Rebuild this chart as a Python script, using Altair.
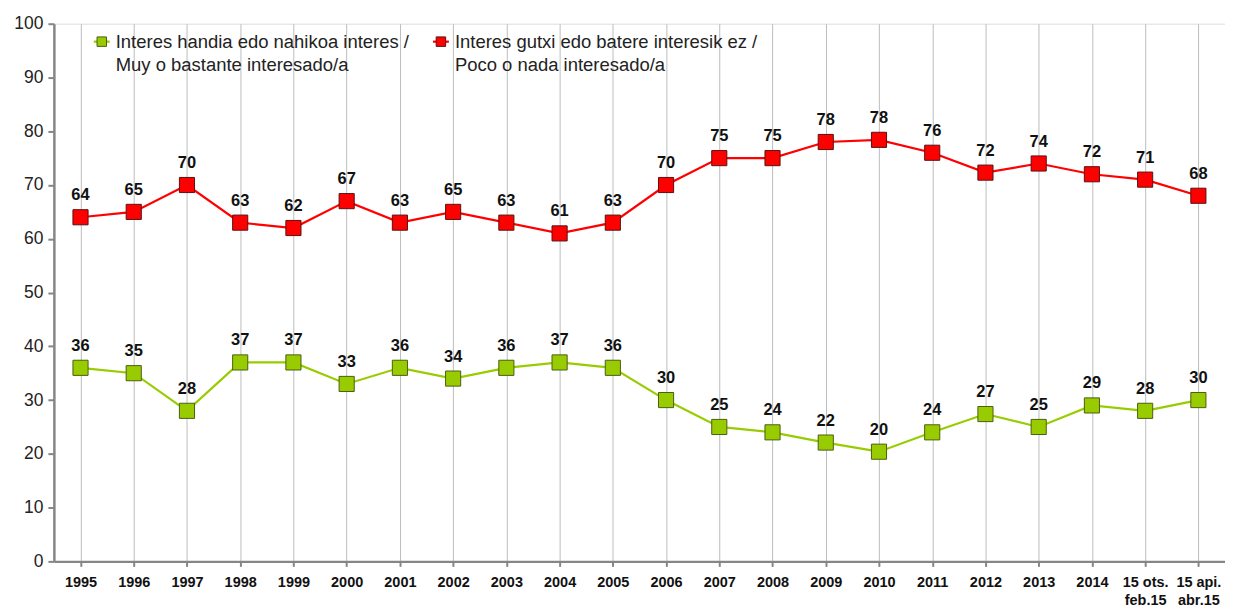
import altair as alt
import pandas as pd

categories = ["1995", "1996", "1997", "1998", "1999", "2000", "2001", "2002", "2003",
              "2004", "2005", "2006", "2007", "2008", "2009", "2010", "2011", "2012",
              "2013", "2014", "15 ots.|feb.15", "15 api.|abr.15"]
green_vals = [36, 35, 28, 37, 37, 33, 36, 34, 36, 37, 36, 30, 25, 24, 22.1, 20.4, 24, 27.4,
              25, 29, 28, 30]
green_lbls = [36, 35, 28, 37, 37, 33, 36, 34, 36, 37, 36, 30, 25, 24, 22, 20, 24, 27,
              25, 29, 28, 30]
red_vals = [64, 65, 70, 63, 62, 67, 63, 65, 63, 61, 63, 70, 75, 75, 78, 78.4, 76, 72.3,
            74, 72, 71, 68]
red_lbls = [64, 65, 70, 63, 62, 67, 63, 65, 63, 61, 63, 70, 75, 75, 78, 78, 76, 72,
            74, 72, 71, 68]
series_names = ["green", "red"]
legend_lines = [["Interes handia edo nahikoa interes /", "Muy o bastante interesado/a"],
                ["Interes gutxi edo batere interesik ez /", "Poco o nada interesado/a"]]

GREEN = "#99CC00"
RED = "#FF0000"
FONT = "Liberation Sans"

rows = []
for c, v, l in zip(categories, green_vals, green_lbls):
    rows.append({"cat": c, "val": v, "lbl": l, "s": "green"})
for c, v, l in zip(categories, red_vals, red_lbls):
    rows.append({"cat": c, "val": v, "lbl": l, "s": "red"})
df = pd.DataFrame(rows)

W, H = 1174, 539

x_enc = alt.X("cat:N", sort=categories, title=None,
              scale=alt.Scale(paddingInner=0, paddingOuter=0),
              axis=alt.Axis(labelAngle=0, bandPosition=0, grid=True, gridColor="#BDBDBD",
                            gridWidth=1, domainColor="#868686", domainWidth=2.5,
                            tickColor="#868686", tickWidth=2, tickSize=5,
                            labelFont=FONT, labelFontSize=14.5, labelFontWeight="bold",
                            labelColor="#111111", labelPadding=9,
                            labelExpr="split(datum.label, '|')", labelLineHeight=18))
y_enc = alt.Y("val:Q", title=None,
              scale=alt.Scale(domain=[0, 100], nice=False),
              axis=alt.Axis(values=list(range(0, 101, 10)), grid=False,
                            domainColor="#868686", domainWidth=2.5,
                            tickColor="#868686", tickWidth=2, tickSize=6,
                            labelFont=FONT, labelFontSize=17.5, labelColor="#222222",
                            labelPadding=5))
color_scale = alt.Scale(domain=series_names, range=[GREEN, RED])
stroke_scale = alt.Scale(domain=series_names, range=["#4a5e12", "#5a1010"])

base = alt.Chart(df)
lines = base.mark_line(strokeWidth=2.2).encode(
    x=x_enc, y=y_enc,
    color=alt.Color("s:N", scale=color_scale, legend=None),
    detail="s:N")
points = base.mark_square(size=230, opacity=1, strokeWidth=1).encode(
    x=alt.X("cat:N", sort=categories),
    y="val:Q",
    fill=alt.Fill("s:N", scale=color_scale, legend=None),
    stroke=alt.Stroke("s:N", scale=stroke_scale, legend=None))
labels = base.mark_text(dy=-22, font=FONT, fontSize=16.5, fontWeight="bold",
                        color="#111111").encode(
    x=alt.X("cat:N", sort=categories), y="val:Q", text="lbl:Q")

layers = [lines, points, labels]

# legend
leg_pos = [(48, 18), (388, 18)]
for (lx, ly), name, txt in zip(leg_pos, series_names, legend_lines):
    col = GREEN if name == "green" else RED
    stk = "#4a5e12" if name == "green" else "#5a1010"
    layers.append(alt.Chart(df.head(1)).mark_rule(color=col, strokeWidth=2.2).encode(
        x=alt.value(lx - 8), x2=alt.value(lx + 8), y=alt.value(ly)))
    layers.append(alt.Chart(df.head(1)).mark_square(size=90, fill=col, stroke=stk,
                                                    strokeWidth=1, opacity=1).encode(
        x=alt.value(lx), y=alt.value(ly)))
    layers.append(alt.Chart(df.head(1)).mark_text(
        align="left", baseline="middle", font=FONT, fontSize=18.5, color="#222222",
        lineHeight=23).encode(
        x=alt.value(lx + 14), y=alt.value(ly), text=alt.value(txt)))

chart = alt.layer(*layers).properties(
    width=W, height=H,
    padding={"left": 5, "top": 6, "right": 0, "bottom": 0}
).configure_view(stroke=None).configure(background="white")

chart.save("out.html", embed_options={"renderer": "svg", "actions": False})
